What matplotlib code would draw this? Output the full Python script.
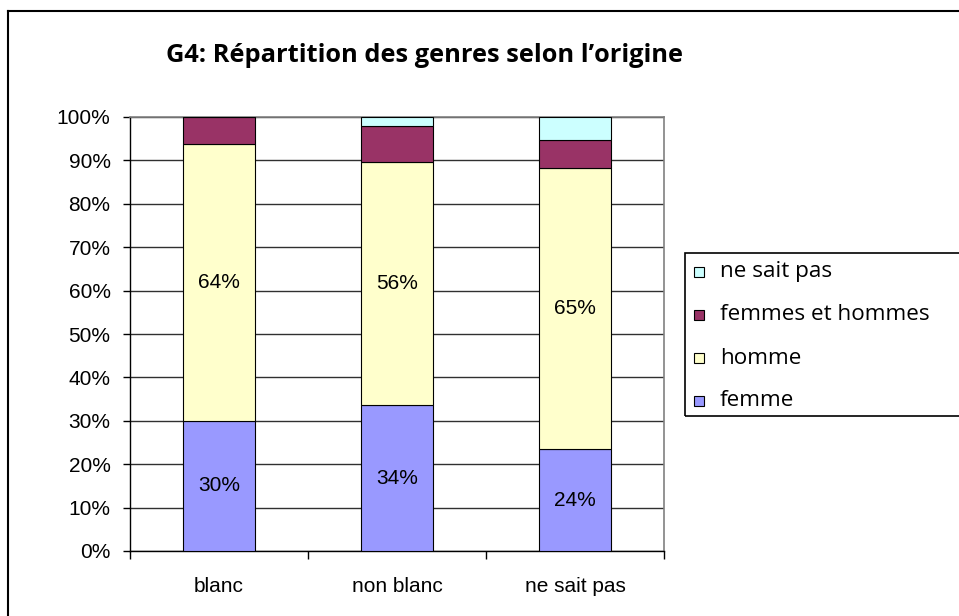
import matplotlib
matplotlib.use("Agg")
import matplotlib.pyplot as plt
from matplotlib.patches import Rectangle
from matplotlib.lines import Line2D

# Data (percent)
categories = ["blanc", "non blanc", "ne sait pas"]
femme = [30.0, 33.6, 23.5]
homme = [63.8, 56.0, 64.8]
femmes_hommes = [6.2, 8.3, 6.3]
ne_sait_pas = [0.0, 2.1, 5.4]

series = [
    ("femme", femme, "#9999FF"),
    ("homme", homme, "#FFFFCC"),
    ("femmes et hommes", femmes_hommes, "#993366"),
    ("ne sait pas", ne_sait_pas, "#CCFFFF"),
]
labelled = ["femme", "homme"]

W, H = 959, 616
fig = plt.figure(figsize=(W / 100, H / 100), dpi=100)
fig.patch.set_facecolor("white")

# outer chart border (left/top visible, rest cut off)
fig.add_artist(Line2D([8 / W, 8 / W], [0, 1 - 11 / H], color="black", lw=1.5))
fig.add_artist(Line2D([8 / W, 1], [1 - 11 / H, 1 - 11 / H], color="black", lw=1.5))

ax = fig.add_axes([130 / W, (H - 551) / H, (664 - 130) / W, (551 - 117) / H])

x = list(range(len(categories)))
bottom = [0.0] * len(categories)
for name, vals, col in series:
    ax.bar(x, vals, width=0.41, bottom=bottom, color=col,
           edgecolor="black", linewidth=0.8, zorder=3)
    if name in labelled:
        for xi, b, v in zip(x, bottom, vals):
            ax.text(xi, b + v / 2, f"{v:.0f}%", ha="center", va="center",
                    fontsize=15, family="Liberation Sans", zorder=4)
    bottom = [b + v for b, v in zip(bottom, vals)]

ax.set_xlim(-0.5, 2.5)
ax.set_ylim(0, 100)
ax.set_yticks(range(0, 101, 10))
ax.set_yticklabels([f"{v}%" for v in range(0, 101, 10)], family="Liberation Sans", fontsize=15)
ax.yaxis.grid(True, color="#303030", linewidth=1.0, zorder=0)
ax.set_axisbelow(True)

ax.set_xticks([-0.5, 0.5, 1.5, 2.5])
ax.set_xticklabels([])
ax.set_xticks(x, minor=True)
ax.set_xticklabels(categories, minor=True, family="Liberation Sans", fontsize=15)
ax.tick_params(axis="x", which="major", length=6, width=1, direction="out")
ax.tick_params(axis="x", which="minor", length=0, pad=19)
ax.tick_params(axis="y", length=5, width=1, direction="out", pad=9)

for s in ["top", "right"]:
    ax.spines[s].set_color("#808080")
    ax.spines[s].set_linewidth(1.2)
ax.spines["left"].set_linewidth(1.0)
ax.spines["bottom"].set_linewidth(1.0)

fig.text(424 / W, 1 - 55 / H, "G4: Répartition des genres selon l\u2019origine",
         ha="center", va="center", fontsize=18.3, fontweight="bold", family="Open Sans")

# legend box
fig.add_artist(Rectangle((685 / W, 1 - 416 / H), 300 / W, (416 - 253) / H,
                         transform=fig.transFigure, fill=False, edgecolor="black", lw=1.2))
leg_order = ["ne sait pas", "femmes et hommes", "homme", "femme"]
leg_y = [272, 315, 358, 401]
colors = {n: c for n, _, c in series}
for name, yy in zip(leg_order, leg_y):
    fig.add_artist(Rectangle((694 / W, 1 - (yy + 5) / H), 10 / W, 10 / H,
                             transform=fig.transFigure, facecolor=colors[name],
                             edgecolor="black", lw=0.8))
    fig.text(720 / W, 1 - yy / H, name, ha="left", va="center",
             fontsize=16.2, family="Open Sans")

fig.savefig("out.png", dpi=100)
